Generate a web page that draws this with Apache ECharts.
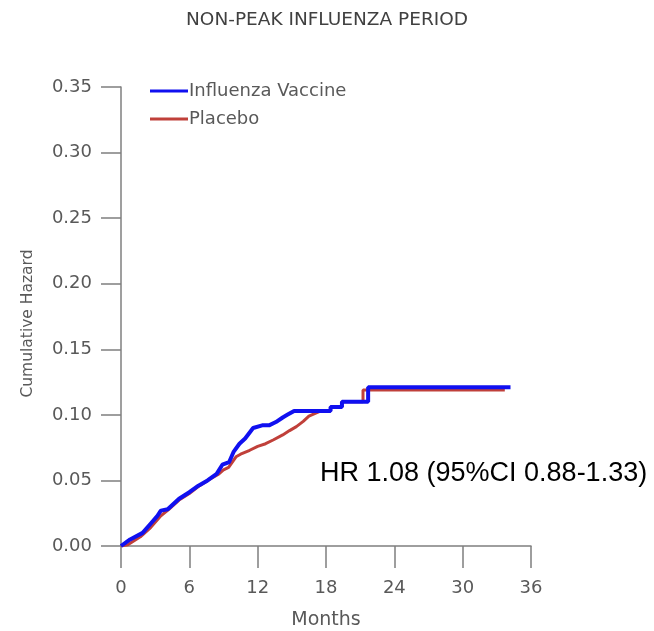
<!DOCTYPE html>
<html>
<head>
<meta charset="utf-8">
<script src="https://cdn.jsdelivr.net/npm/echarts@6/dist/echarts.min.js"></script>
<style>html,body{margin:0;padding:0;background:#fff}#c{width:654px;height:631px}</style>
</head>
<body>
<div id="c"></div>
<script>
var titleText = 'NON-PEAK INFLUENZA PERIOD';
var xTicks = [0, 6, 12, 18, 24, 30, 36];
var yTicks = [0.00, 0.05, 0.10, 0.15, 0.20, 0.25, 0.30, 0.35];
var vaccineMonths = [0,0.8,1.9,2.6,3.2,3.5,4.1,5.1,6.0,6.8,7.6,8.4,8.9,9.5,9.9,10.4,10.9,11.6,12.4,13.0,13.6,14.2,14.6,15.2,18.4,18.4,19.4,19.4,21.7,21.7,34.2];
var vaccineHazard = [0,0.005,0.010,0.017,0.023,0.027,0.028,0.036,0.041,0.046,0.050,0.055,0.062,0.064,0.072,0.078,0.082,0.090,0.092,0.092,0.0945,0.098,0.100,0.103,0.103,0.106,0.106,0.110,0.110,0.121,0.121];
var placeboMonths = [0,0.6,1.7,2.6,3.5,4.2,5.1,6.0,6.9,7.8,8.6,9.0,9.45,10.1,10.5,11.3,12.0,12.7,13.4,14.2,14.8,15.4,16.0,16.5,17.4,18.4,18.4,19.4,19.4,21.25,21.25,33.7];
var placeboHazard = [0,0.001,0.007,0.014,0.023,0.028,0.035,0.040,0.046,0.051,0.055,0.058,0.060,0.068,0.070,0.073,0.076,0.078,0.081,0.0847,0.088,0.091,0.095,0.099,0.1025,0.103,0.106,0.106,0.110,0.110,0.119,0.119];
var seriesNames = ['Influenza Vaccine', 'Placebo'];
var annotation = 'HR 1.08 (95%CI 0.88-1.33)';

function zip(a, b) { return a.map(function (v, i) { return [v, b[i]]; }); }

var chart = echarts.init(document.getElementById('c'), null, {renderer: 'canvas'});
var axisColor = '#7f7f7f';
var textColor = '#595959';
var font = '"DejaVu Sans"';
chart.setOption({
  animation: false,
  backgroundColor: '#fff',
  title: {
    text: titleText, left: 'center', top: 6,
    textStyle: {fontFamily: font, fontSize: 18.5, fontWeight: 'normal', color: '#404040'}
  },
  legend: {
    orient: 'vertical', left: 145, top: 76, itemWidth: 38, itemHeight: 3, itemGap: 8,
    icon: 'rect',
    textStyle: {fontFamily: font, fontSize: 18, color: textColor, lineHeight: 20, padding: [0,0,0,-4]},
    data: seriesNames
  },
  grid: {left: 121, right: 123, top: 87, bottom: 85, containLabel: false, outerBoundsMode: 'none'},
  xAxis: {
    type: 'value', min: xTicks[0], max: xTicks[xTicks.length - 1], interval: 6,
    name: 'Months', nameLocation: 'middle', nameGap: 65,
    nameTextStyle: {fontFamily: font, fontSize: 19, color: textColor},
    axisLine: {lineStyle: {color: axisColor, width: 1.5}},
    axisTick: {show: true, length: 22, lineStyle: {color: axisColor, width: 1.5}},
    axisLabel: {margin: 33, fontFamily: font, fontSize: 18, color: textColor},
    splitLine: {show: false}
  },
  yAxis: {
    type: 'value', min: yTicks[0], max: yTicks[yTicks.length - 1], interval: 0.05,
    name: 'Cumulative Hazard', nameLocation: 'middle', nameGap: 85,
    nameTextStyle: {fontFamily: font, fontSize: 15.5, color: textColor, padding: [0, 14, 0, 0]},
    axisLine: {show: true, lineStyle: {color: axisColor, width: 1.5}},
    axisTick: {show: true, length: 20, lineStyle: {color: axisColor, width: 1.5}},
    axisLabel: {margin: 29, fontFamily: font, fontSize: 18, color: textColor,
      formatter: function (v) { return v.toFixed(2); }},
    splitLine: {show: false}
  },
  graphic: [{
    type: 'text', left: 320, top: 460,
    style: {text: annotation, font: '27px "Liberation Sans", Arial, sans-serif', fill: '#000'}
  }],
  series: [
    {
      name: seriesNames[1], type: 'line', symbol: 'none', z: 2,
      data: zip(placeboMonths, placeboHazard),
      lineStyle: {color: '#c0403a', width: 3}, itemStyle: {color: '#c0403a'}
    },
    {
      name: seriesNames[0], type: 'line', symbol: 'none', z: 3,
      data: zip(vaccineMonths, vaccineHazard),
      lineStyle: {color: '#1010f0', width: 4}, itemStyle: {color: '#1010f0'}
    }
  ]
});
</script>
</body>
</html>
